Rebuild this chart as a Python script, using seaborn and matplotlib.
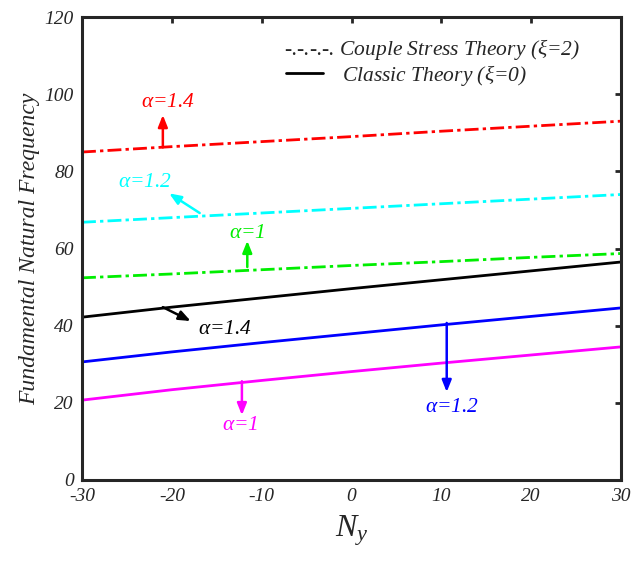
import matplotlib
matplotlib.use("Agg")
import matplotlib.pyplot as plt
import seaborn as sns
import pandas as pd
from matplotlib.lines import Line2D

sns.set_style("white")
plt.rcParams['font.family'] = ['Liberation Serif', 'DejaVu Serif']
plt.rcParams['mathtext.fontset'] = 'custom'
plt.rcParams['mathtext.it'] = 'Liberation Serif:italic'
plt.rcParams['mathtext.rm'] = 'Liberation Serif'

ny = [-30, -20, -10, 0, 10, 20, 30]
cs_a14 = [85.0, 86.4, 87.7, 89.0, 90.4, 91.7, 93.0]
cs_a12 = [66.8, 68.0, 69.2, 70.4, 71.6, 72.8, 74.0]
cs_a10 = [52.4, 53.4, 54.5, 55.6, 56.6, 57.7, 58.7]
cl_a14 = [42.2, 44.8, 47.2, 49.6, 51.9, 54.2, 56.5]
cl_a12 = [30.6, 33.2, 35.6, 37.9, 40.2, 42.4, 44.6]
cl_a10 = [20.7, 23.4, 25.8, 28.1, 30.3, 32.4, 34.5]

xticks = [-30, -20, -10, 0, 10, 20, 30]
yticks = [0, 20, 40, 60, 80, 100, 120]

fig = plt.figure(figsize=(6.44, 5.61), dpi=100)
ax = fig.add_axes([82/644, 1-480/561, (621-82)/644, (480-17)/561])

dashdot = (0, (5, 1.5, 1.2, 1.5))
series = [
    (cs_a14, 'red', dashdot),
    (cs_a12, 'cyan', dashdot),
    (cs_a10, '#00ee00', dashdot),
    (cl_a14, 'black', '-'),
    (cl_a12, 'blue', '-'),
    (cl_a10, 'magenta', '-'),
]
for vals, col, ls in series:
    df = pd.DataFrame({'x': ny, 'y': vals})
    sns.lineplot(data=df, x='x', y='y', ax=ax, color=col, linewidth=2.0,
                 linestyle=ls, legend=False)

ax.set_xlim(-30, 30)
ax.set_ylim(0, 120)
ax.set_xticks(xticks)
ax.set_yticks(yticks)
ax.set_xticklabels([str(t) for t in xticks], fontsize=14, style='italic')
ax.set_yticklabels([str(t) for t in yticks], fontsize=14, style='italic')
ax.tick_params(direction='in', length=4, width=2, color='#262626',
               top=True, right=True, pad=6)
for s in ax.spines.values():
    s.set_color('#262626')
    s.set_linewidth(2.2)

ax.set_xlabel(r'$N_y$', fontsize=23, labelpad=6)
ax.set_ylabel('Fundamental Natural Frequency', fontsize=17, style='italic', labelpad=3)

def ann(txt, xy, xytext, col, tx, ty):
    ax.annotate('', xy=xytext, xytext=xy,
                arrowprops=dict(arrowstyle='-|>,head_length=0.7,head_width=0.28',
                                color=col, lw=1.8, shrinkA=0, shrinkB=0))
    ax.text(tx, ty, r'$\alpha$=' + txt, color=col, fontsize=15.5, style='italic',
            ha='center', va='center')

ann('1.4', (-21, 86.2), (-21, 94.6), 'red', -20.4, 97.8)
ann('1.2', (-16.9, 69.2), (-20.3, 74.3), 'cyan', -23.0, 77.0)
ann('1', (-11.6, 55.2), (-11.6, 62.0), '#00ee00', -11.6, 63.8)
ann('1.4', (-21, 44.8), (-17.9, 41.2), 'black', -14.1, 38.9)
ann('1', (-12.2, 25.6), (-12.2, 16.8), 'magenta', -12.4, 14.2)
ann('1.2', (10.6, 40.7), (10.6, 22.8), 'blue', 11.2, 18.8)

ax.text(284/644, 1-49/561, r'-.-.-.-. Couple Stress Theory ($\xi$=2)', transform=fig.transFigure,
        fontsize=15.5, style='italic', va='center', ha='left')
fig.add_artist(Line2D([286/644, 323/644], [1-73/561, 1-73/561], color='black', lw=2,
                      transform=fig.transFigure))
ax.text(342/644, 1-75/561, r'Classic Theory ($\xi$=0)', transform=fig.transFigure,
        fontsize=15.5, style='italic', va='center', ha='left')

fig.savefig('out.png', dpi=100)
